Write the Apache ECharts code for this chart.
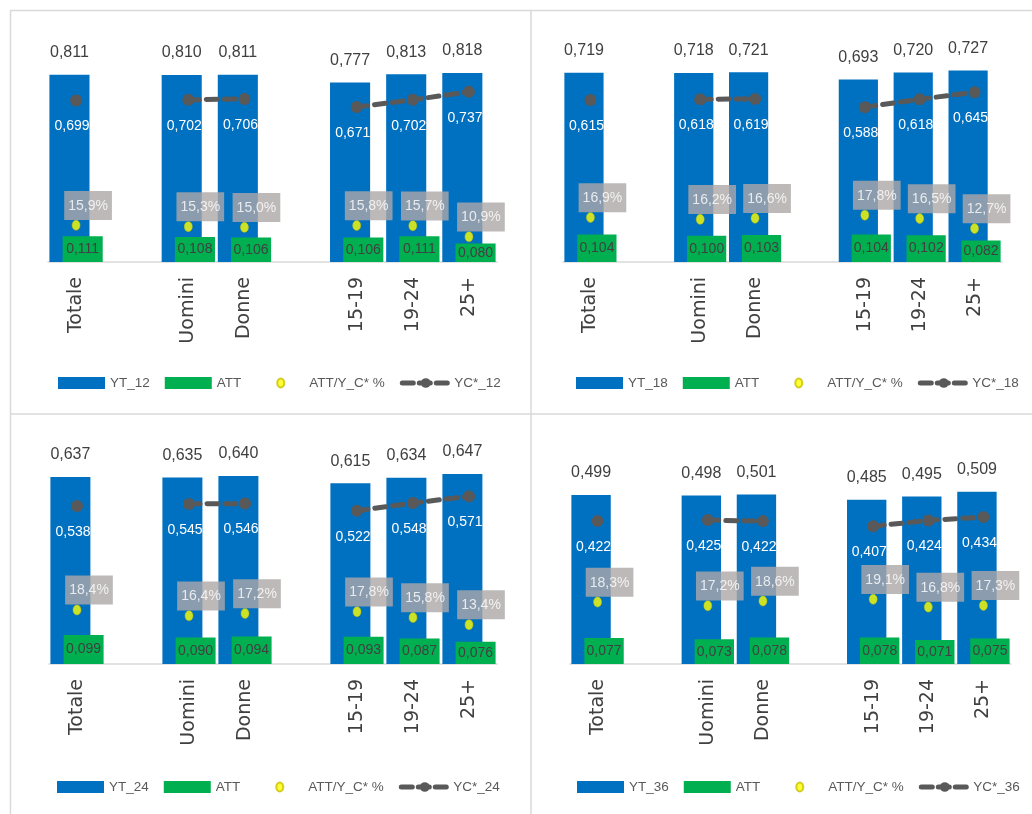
<!DOCTYPE html>
<html>
<head>
<meta charset="utf-8">
<script src="https://cdn.jsdelivr.net/npm/echarts@6/dist/echarts.min.js"></script>
<style>
html,body{margin:0;padding:0;background:#fff;}
#chart{width:1032px;height:814px;}
</style>
</head>
<body>
<div id="chart"></div>
<script>
// Categories (empty strings are spacer slots between groups)
const categories = ['Totale', '', 'Uomini', 'Donne', '', '15-19', '19-24', '25+'];

// Panel suffixes / series names
const panelNames = ['12', '18', '24', '36'];

// YT_xx values
const yt12 = [0.811, null, 0.810, 0.811, null, 0.777, 0.813, 0.818];
const yt18 = [0.719, null, 0.718, 0.721, null, 0.693, 0.720, 0.727];
const yt24 = [0.637, null, 0.635, 0.640, null, 0.615, 0.634, 0.647];
const yt36 = [0.499, null, 0.498, 0.501, null, 0.485, 0.495, 0.509];

// ATT values
const att12 = [0.111, null, 0.108, 0.106, null, 0.106, 0.111, 0.080];
const att18 = [0.104, null, 0.100, 0.103, null, 0.104, 0.102, 0.082];
const att24 = [0.099, null, 0.090, 0.094, null, 0.093, 0.087, 0.076];
const att36 = [0.077, null, 0.073, 0.078, null, 0.078, 0.071, 0.075];

// ATT/Y_C* % values
const pct12 = [15.9, null, 15.3, 15.0, null, 15.8, 15.7, 10.9];
const pct18 = [16.9, null, 16.2, 16.6, null, 17.8, 16.5, 12.7];
const pct24 = [18.4, null, 16.4, 17.2, null, 17.8, 15.8, 13.4];
const pct36 = [18.3, null, 17.2, 18.6, null, 19.1, 16.8, 17.3];

// YC*_xx values
const yc12 = [0.699, null, 0.702, 0.706, null, 0.671, 0.702, 0.737];
const yc18 = [0.615, null, 0.618, 0.619, null, 0.588, 0.618, 0.645];
const yc24 = [0.538, null, 0.545, 0.546, null, 0.522, 0.548, 0.571];
const yc36 = [0.422, null, 0.425, 0.422, null, 0.407, 0.424, 0.434];

// Axis maxima (primary axis; secondary % axis uses same *100)
const axisMax = [1.0, 0.9, 0.8, 0.7];

const ytAll = [yt12, yt18, yt24, yt36];
const attAll = [att12, att18, att24, att36];
const pctAll = [pct12, pct18, pct24, pct36];
const ycAll = [yc12, yc18, yc24, yc36];

// Layout (pixels)
const grids = [
  {left: 48, top: 31, width: 449, height: 231},
  {left: 563, top: 25, width: 439, height: 237},
  {left: 49, top: 429, width: 448, height: 235},
  {left: 570, top: 427, width: 441, height: 237}
];
const legendPos = [
  {left: 53, top: 371},
  {left: 571, top: 371},
  {left: 52, top: 775},
  {left: 572, top: 775}
];

const FONT = "'Liberation Sans', Arial, sans-serif";
const fmt3 = v => v.toFixed(3).replace('.', ',');
const fmtPct = v => v.toFixed(1).replace('.', ',') + '%';

const option = {
  animation: false,
  backgroundColor: '#ffffff',
  grid: grids.map(g => Object.assign({containLabel: false}, g)),
  xAxis: grids.map((g, i) => ({
    type: 'category',
    gridIndex: i,
    data: categories,
    axisTick: {show: false},
    axisLine: {lineStyle: {color: '#d9d9d9', width: 1.5}},
    axisLabel: {
      interval: 0, rotate: 90, margin: 15,
      fontFamily: 'DejaVu Sans', fontSize: 19, color: '#404040'
    }
  })),
  yAxis: [].concat(...grids.map((g, i) => ([
    {type: 'value', gridIndex: i, min: 0, max: axisMax[i], show: false, splitLine: {show: false}},
    {type: 'value', gridIndex: i, min: 0, max: axisMax[i] * 100, show: false, splitLine: {show: false}}
  ]))),
  legend: legendPos.map((p, i) => ({
    left: p.left, top: p.top, width: 480, orient: 'horizontal',
    itemWidth: 47, itemHeight: 12, itemGap: 15,
    textStyle: {fontFamily: FONT, fontSize: 13.5, color: '#595959'},
    data: [
      {name: 'YT_' + panelNames[i], icon: 'rect'},
      {name: 'ATT', icon: 'rect'},
      {name: 'ATT/Y_C* %', icon: 'path://M0,0M47,12M20,6a3.5,4.5 0 1,0 7,0a3.5,4.5 0 1,0 -7,0z'},
      {name: 'YC*_' + panelNames[i], lineStyle: {width: 5, type: [11, 6], cap: 'round', color: '#595959'}}
    ]
  })),
  graphic: [
    {type: 'line', shape: {x1: 10, y1: 10.5, x2: 1032, y2: 10.5}, style: {stroke: '#d9d9d9', lineWidth: 1.5}, silent: true},
    {type: 'line', shape: {x1: 10.5, y1: 10, x2: 10.5, y2: 814}, style: {stroke: '#d9d9d9', lineWidth: 1.5}, silent: true},
    {type: 'line', shape: {x1: 531, y1: 10, x2: 531, y2: 814}, style: {stroke: '#d9d9d9', lineWidth: 1.5}, silent: true},
    {type: 'line', shape: {x1: 10, y1: 414, x2: 1032, y2: 414}, style: {stroke: '#d9d9d9', lineWidth: 1.5}, silent: true}
  ],
  series: [].concat(...grids.map((g, i) => ([
    {
      name: 'YT_' + panelNames[i], type: 'bar', xAxisIndex: i, yAxisIndex: 2 * i,
      data: ytAll[i], itemStyle: {color: '#0070C0'},
      barGap: '-67%', barCategoryGap: '5%', z: 2,
      label: {show: true, position: 'top', distance: 14, fontFamily: FONT, fontSize: 16, color: '#404040',
        formatter: p => fmt3(p.value)}
    },
    {
      name: 'ATT', type: 'bar', xAxisIndex: i, yAxisIndex: 2 * i,
      data: attAll[i], itemStyle: {color: '#00B050'},
      barGap: '-67%', barCategoryGap: '5%', z: 3,
      label: {show: true, position: 'inside', fontFamily: FONT, fontSize: 14, color: '#404040',
        formatter: p => fmt3(p.value)}
    },
    {
      name: 'ATT/Y_C* %', type: 'scatter', xAxisIndex: i, yAxisIndex: 2 * i + 1,
      data: pctAll[i], symbol: 'circle', symbolSize: [8, 10], z: 5,
      itemStyle: {color: '#FFFF00', borderColor: '#c8c000', borderWidth: 0.6},
      label: {show: true, position: 'top', distance: 0, offset: [12, 0],
        backgroundColor: '#aca8a8', padding: [8, 4, 7, 4],
        fontFamily: FONT, fontSize: 14, color: '#ffffff',
        formatter: p => fmtPct(p.value)}
    },
    {
      name: 'YC*_' + panelNames[i], type: 'line', xAxisIndex: i, yAxisIndex: 2 * i,
      data: ycAll[i], connectNulls: false, z: 6,
      symbol: 'circle', symbolSize: 12, showSymbol: true,
      itemStyle: {color: '#595959'},
      lineStyle: {color: '#595959', width: 5, type: [11, 7], cap: 'round'},
      label: {show: true, position: 'bottom', distance: 13, offset: [-4, 0], fontFamily: FONT, fontSize: 14, color: '#ffffff',
        formatter: p => fmt3(p.value)}
    }
  ])))
};

const chart = echarts.init(document.getElementById('chart'), null, {renderer: 'canvas'});
chart.setOption(option);
</script>
</body>
</html>
